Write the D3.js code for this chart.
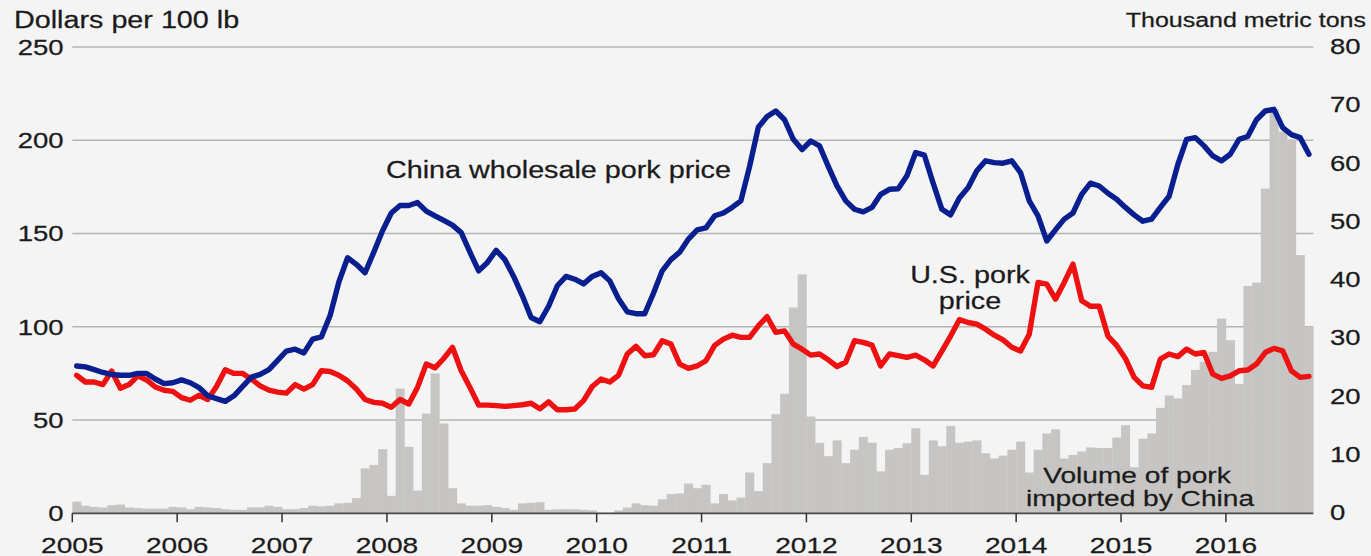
<!DOCTYPE html>
<html><head><meta charset="utf-8">
<script src="https://cdn.jsdelivr.net/npm/d3@7"></script>
<style>html,body{margin:0;padding:0;background:#f4f4f4;} svg{display:block;}</style>
</head><body>
<svg id="c" width="1371" height="556"></svg>
<script>
// ---- Data (monthly, Jan 2005 – Oct 2016) ----
const startYear = 2005;
const yearTicks = [2005,2006,2007,2008,2009,2010,2011,2012,2013,2014,2015,2016];
const leftTicks = [0,50,100,150,200,250];
const rightTicks = [0,10,20,30,40,50,60,70,80];

// China wholesale pork price, dollars per 100 lb
const chinaPrice = [
 79,78.5,77,75.5,74.5,74,74,75,75,72,69.5,70,
 71.5,70,67.4,63,61.5,60,63,68,73,74.5,77,82,
 87,88,86,93.4,94.6,106,124,137,133.5,129,140,151.5,
 161,165,165,166.6,162,159.5,157,154.5,150.5,140,130,134.5,
 141,136,127,116.6,105,102.7,111,122,127,125.5,123,127,
 129,124.6,115,108,107,107,118,130,136,140,147,152,
 153,159.5,161,164,167.5,186,207,212.7,215.7,211,200.5,195,
 199.6,197,186,175.5,167.5,163,161.6,164,171,173.7,174,181,
 193.4,192,177,163,160,169,174.6,183.6,189,188,187.7,189,
 182.7,167.5,159.5,146,152,157.7,161,171,177,175.5,171.6,168.4,
 164,160,156.6,157.7,164,170,187,200.5,201.4,197,191.6,189,
 192.5,200.5,202,211,215.7,216.6,206.8,203,201.4,192.5
];

// U.S. pork price, dollars per 100 lb
const usPrice = [
 74,70.4,70.4,69,76.3,67,69,73.7,71.5,67.7,66,65.4,
 62,60.6,63.3,61,68,77,75,75,71.9,68.3,66,65,
 64.4,69,66.6,69,76.4,76,74,71,66.6,61,59.5,59,
 56.8,61,58.6,67.5,80,78,83,89,76.4,67.5,58,58,
 57.7,57.3,57.7,58.2,59,56,59.8,55.5,55.5,55.9,60.4,68,
 72,70.4,74,85.4,89.5,84.5,85,92.5,90.7,80,77.7,79,
 81.8,90,93.4,95.5,94.3,94.3,100.5,105.4,97,97.8,90.7,88,
 84.8,85.4,82.3,78.7,81,92.5,91.6,90.2,79,85.4,84.5,83.6,
 84.8,82.3,79,87,95,103.8,102.3,101.4,98.7,95.5,93,89,
 87,96,123.8,122.9,114.8,123.8,133.6,114,111,111,95,90,
 83,72.9,68.3,67.5,82.7,85.4,84,88,85.4,86.2,74.6,72.3,
 73.7,76.4,76.8,80,86.2,88.4,87.1,76.4,72.9,73.4
];

// Volume of pork imported by China, thousand metric tons
const importVolume = [
 2.0,1.3,1.1,1.0,1.4,1.5,1.0,0.9,0.8,0.8,0.8,1.1,
 1.0,0.7,1.1,1.0,0.9,0.7,0.6,0.6,1.0,1.0,1.3,1.1,
 0.7,0.7,0.9,1.3,1.2,1.3,1.7,1.8,2.6,7.7,8.3,11,
 3.0,21.4,11.4,3.9,17.1,24,15.4,4.3,1.7,1.3,1.3,1.4,
 1.1,0.9,0.6,1.7,1.8,1.9,0.6,0.7,0.7,0.7,0.6,0.5,
 0.1,0.1,0.5,1.0,1.7,1.4,1.3,2.4,3.3,3.4,5.1,4.3,
 4.9,1.7,3.3,2.2,2.7,7.0,3.8,8.6,17.0,20.5,35.3,41,
 16.6,12.1,9.8,12.5,8.6,10.9,13.1,12.1,7.2,10.9,11.2,12,
 14.6,6.6,12.5,11.5,15.0,12.1,12.3,12.5,10.3,9.4,9.9,10.9,
 12.3,7.0,10.9,13.7,14.4,9.4,10.0,10.6,11.3,11.2,11.2,13.0,
 15.1,7.9,12.8,13.7,18.1,20.2,19.7,22.0,24.6,26.0,27.7,33.4,
 29.7,22.2,39.0,39.6,55.7,69.3,65.5,64.0,44.3,32.0
];

const leftTitle = "Dollars per 100 lb";
const rightTitle = "Thousand metric tons";
const chinaLabel = "China wholesale pork price";
const usLabel = ["U.S. pork", "price"];
const volLabel = ["Volume of pork", "imported by China"];

// ---- Drawing ----
const svg = d3.select("#c");
const FONT = "'Liberation Sans', Arial, Helvetica, sans-serif";
const SX = 1.25;
const textColor = "#1b1b1b";

const nMonths = importVolume.length;
const x = d3.scaleLinear().domain([startYear, startYear + nMonths/12]).range([72.3, 1313.3]);
const yL = d3.scaleLinear().domain([0,250]).range([513.3, 47]);
const yR = d3.scaleLinear().domain([0,80]).range([513.3, 47]);

svg.append("rect").attr("width",1371).attr("height",556).attr("fill","#f4f4f4");

function label(px, py, txt, size, anchor){
  const g = svg.append("g").attr("transform", `translate(${px},${py}) scale(${SX},1)`);
  g.append("text").attr("x",0).attr("y",0)
    .attr("text-anchor", anchor).attr("font-family", FONT)
    .attr("font-size", size).attr("fill", textColor)
    .attr("stroke", textColor).attr("stroke-width", 0.25).text(txt);
}

// gridlines
svg.append("g").selectAll("line").data(leftTicks.filter(d=>d>0)).join("line")
  .attr("x1", x.range()[0]).attr("x2", x.range()[1])
  .attr("y1", d=>yL(d)).attr("y2", d=>yL(d))
  .attr("stroke","#b4b4b4").attr("stroke-width",1.6);

// bars
const months = d3.range(nMonths).map(i => startYear + i/12);
svg.append("g").selectAll("rect").data(importVolume).join("rect")
  .attr("x", (d,i)=>x(months[i]))
  .attr("width", (d,i)=>x(months[i]+1/12)-x(months[i])+0.3)
  .attr("y", d=>yR(d))
  .attr("height", d=>yR(0)-yR(d))
  .attr("fill","#c6c5c3");

// axis baseline and ticks
svg.append("line").attr("x1", x.range()[0]).attr("x2", x.range()[1])
  .attr("y1", yL(0)).attr("y2", yL(0)).attr("stroke","#4a4a4a").attr("stroke-width",1.8);
svg.append("g").selectAll("line").data(yearTicks).join("line")
  .attr("x1", d=>x(d)).attr("x2", d=>x(d))
  .attr("y1", yL(0)).attr("y2", yL(0)+9)
  .attr("stroke","#333").attr("stroke-width",1.5);

// lines
const line = d3.line().x(d=>x(d.t)).y(d=>yL(d.v));
function series(arr){ return arr.map((v,i)=>({t: startYear + i/12 + 1/24, v})); }
svg.append("path").datum(series(usPrice)).attr("d", line)
  .attr("fill","none").attr("stroke","#ee1111").attr("stroke-width",5.4)
  .attr("stroke-linejoin","round").attr("stroke-linecap","round");
svg.append("path").datum(series(chinaPrice)).attr("d", line)
  .attr("fill","none").attr("stroke","#0a1f8f").attr("stroke-width",5.4)
  .attr("stroke-linejoin","round").attr("stroke-linecap","round");

// tick labels
leftTicks.forEach(d => label(63.5, yL(d)+7.8, String(d), 22, "end"));
rightTicks.forEach(d => label(1330, yR(d)+7, String(d), 22, "start"));
yearTicks.forEach(d => label(x(d), 552.5, String(d), 22.5, "middle"));

// titles
label(14, 27.5, leftTitle, 23, "start");
label(1366, 26.7, rightTitle, 20, "end");

// annotations
label(386, 178, chinaLabel, 23, "start");
label(970, 283.3, usLabel[0], 23, "middle");
label(970, 309.3, usLabel[1], 23, "middle");
label(1137, 482.7, volLabel[0], 22.5, "middle");
label(1140, 506, volLabel[1], 22.5, "middle");
</script>
</body></html>
